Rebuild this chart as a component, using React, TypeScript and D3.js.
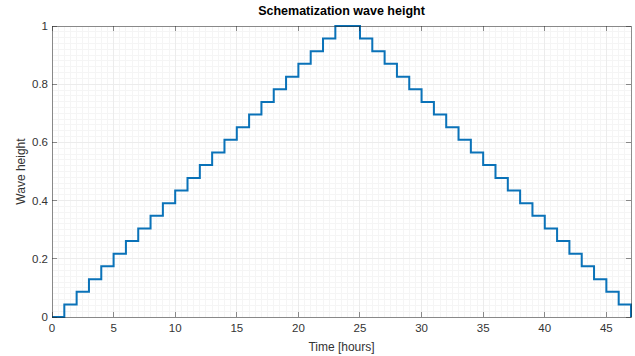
import * as d3 from 'd3';

// hourly schematized wave height (stairs), hour 0..47
const hours = [
  0, 1, 2, 3, 4, 5, 6, 7, 8, 9, 10, 11, 12, 13, 14, 15, 16, 17, 18, 19, 20, 21, 22, 23,
  24, 25, 26, 27, 28, 29, 30, 31, 32, 33, 34, 35, 36, 37, 38, 39, 40, 41, 42, 43, 44, 45, 46, 47,
];
const waveHeight = [
  0, 0.043, 0.087, 0.13, 0.174, 0.217, 0.261, 0.304, 0.348, 0.391, 0.435, 0.478, 0.522,
  0.565, 0.609, 0.652, 0.696, 0.739, 0.783, 0.826, 0.87, 0.913, 0.957, 1,
  1, 0.957, 0.913, 0.87, 0.826, 0.783, 0.739, 0.696, 0.652, 0.609, 0.565, 0.522, 0.478,
  0.435, 0.391, 0.348, 0.304, 0.261, 0.217, 0.174, 0.13, 0.087, 0.043, 0,
];
const xTicks = [0, 5, 10, 15, 20, 25, 30, 35, 40, 45];
const yTicks = [0, 0.2, 0.4, 0.6, 0.8, 1];

const W = 635;
const H = 356;
const margin = { top: 26, right: 4, bottom: 39, left: 52 };
const font = "'Liberation Sans', Arial, sans-serif";

export default function App() {
  const x = d3.scaleLinear().domain([0, 47]).range([margin.left, W - margin.right]);
  const y = d3.scaleLinear().domain([0, 1]).range([H - margin.bottom, margin.top]);

  const pts = hours.map((h, i) => [h, waveHeight[i]] as [number, number]);
  const line = d3.line<[number, number]>()
    .x(d => x(d[0]))
    .y(d => y(d[1]))
    .curve(d3.curveStepAfter);

  const minorX = d3.range(0, 47.01, 0.5);
  const minorY = d3.range(0, 1.001, 0.02);
  const [x0, x1] = x.range();
  const [y0, y1] = y.range();
  const tk = 5;

  return (
    <svg width={W} height={H} style={{ position: 'absolute', left: 0, top: 0, background: '#fff' }} fontFamily={font}>
      {/* minor grid */}
      <g stroke="#f5f5f5" strokeWidth={1} shapeRendering="crispEdges">
        {minorX.map(v => <line key={'mx' + v} x1={x(v)} x2={x(v)} y1={y1} y2={y0} />)}
        {minorY.map(v => <line key={'my' + v} x1={x0} x2={x1} y1={y(v)} y2={y(v)} />)}
      </g>
      {/* major grid */}
      <g stroke="#ececec" strokeWidth={1} shapeRendering="crispEdges">
        {xTicks.map(v => <line key={'gx' + v} x1={x(v)} x2={x(v)} y1={y1} y2={y0} />)}
        {yTicks.map(v => <line key={'gy' + v} x1={x0} x2={x1} y1={y(v)} y2={y(v)} />)}
      </g>

      <path d={line(pts) ?? ''} fill="none" stroke="#0a72b8" strokeWidth={2} />

      {/* box + ticks */}
      <g stroke="#262626" strokeOpacity={0.5} strokeWidth={1} shapeRendering="crispEdges" fill="none">
        <rect x={x0} y={y1} width={x1 - x0} height={y0 - y1} />
        {xTicks.map(v => (
          <g key={'tx' + v}>
            <line x1={x(v)} x2={x(v)} y1={y0} y2={y0 - tk} />
            <line x1={x(v)} x2={x(v)} y1={y1} y2={y1 + tk} />
          </g>
        ))}
        {yTicks.map(v => (
          <g key={'ty' + v}>
            <line x1={x0} x2={x0 + tk} y1={y(v)} y2={y(v)} />
            <line x1={x1} x2={x1 - tk} y1={y(v)} y2={y(v)} />
          </g>
        ))}
      </g>

      <g fill="#333" fontSize={11.5}>
        {xTicks.map(v => (
          <text key={'lx' + v} x={x(v)} y={y0 + 15} textAnchor="middle">{v}</text>
        ))}
        {yTicks.map(v => (
          <text key={'ly' + v} x={x0 - 4} y={y(v) + 4} textAnchor="end">{v}</text>
        ))}
      </g>

      <text x={(x0 + x1) / 2} y={15} textAnchor="middle" fontSize={12.5} fontWeight="bold" fill="#000">
        Schematization wave height
      </text>
      <text x={(x0 + x1) / 2} y={351} textAnchor="middle" fontSize={12} fill="#333">
        Time [hours]
      </text>
      <text transform={`translate(25,${(y0 + y1) / 2}) rotate(-90)`} textAnchor="middle" fontSize={12} fill="#333">
        Wave height
      </text>
    </svg>
  );
}
